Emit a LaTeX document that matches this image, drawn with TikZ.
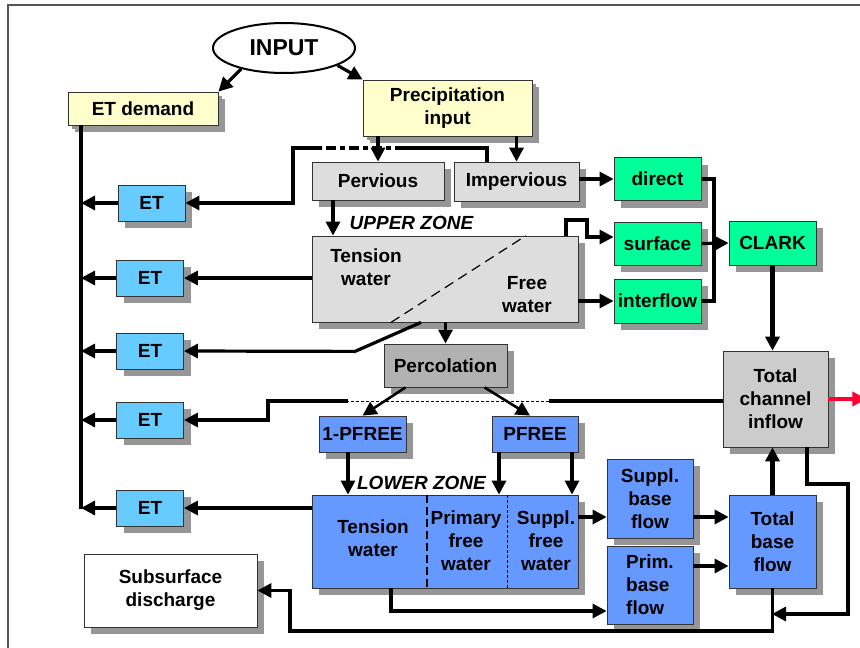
\documentclass[tikz,border=0pt]{standalone}
\usepackage{fontspec}
\setmainfont{Liberation Sans}
\usepackage{tikz}
\usetikzlibrary{shapes.geometric, shadows, arrows.meta}
\definecolor{paleyellow}{HTML}{FFFFCC}
\definecolor{lightgrey}{HTML}{DDDDDD}
\definecolor{midgrey}{HTML}{B2B2B2}
\definecolor{chgrey}{HTML}{CCCCCC}
\definecolor{flowgreen}{HTML}{00FF99}
\definecolor{etblue}{HTML}{66CCFF}
\definecolor{zoneblue}{HTML}{6699FF}
\definecolor{shadowgrey}{HTML}{969696}
\definecolor{framegrey}{HTML}{555555}
\definecolor{outred}{HTML}{FF0033}
\tikzset{box/.style={draw=black!80, line width=0.8pt, rectangle, inner sep=0pt,
		align=center, font=\fontsize{19}{23}\selectfont\bfseries,
		drop shadow={shadow xshift=7pt, shadow yshift=-7pt, fill=shadowgrey, opacity=1}},
	inbox/.style={box, fill=paleyellow,
		drop shadow={shadow xshift=4pt, shadow yshift=-4pt, fill=shadowgrey, opacity=1}},
	etbox/.style={box, fill=etblue, minimum width=67pt, minimum height=36pt},
	label/.style={inner sep=0pt, align=center, font=\fontsize{19}{23}\selectfont\bfseries},
	zonelabel/.style={inner sep=0pt, font=\fontsize{19}{23}\selectfont\bfseries\itshape},
	line/.style={draw, line width=3.2pt},
	arrow/.style={line, -{Triangle[length=14pt, width=14pt]}}}

\begin{document}
\begin{tikzpicture}
    [x=1pt, y=-1pt]
    \useasboundingbox (0,0) rectangle (860,648);
    \draw[framegrey, line width=1.5pt] (8,648) -- (8,5) -- (860,5);
    % inputs
    \node[ellipse, draw, line width=2pt, fill=white, minimum width=142pt, minimum height=50pt,
        inner sep=0pt, font=\fontsize{23}{27}\selectfont\bfseries] (in) at (284,48){INPUT};
    \node[inbox, minimum width=150pt, minimum height=33pt] (etd) at (143,108.5){ET demand};
    \node[inbox, minimum width=169pt, minimum height=56pt] (pi) at (447.5,108){Precipitation\\input};
    % surface split
    \node[box, fill=lightgrey, minimum width=132pt, minimum height=38pt] (pv) at (378,181){Pervious};
    \node[box, fill=lightgrey, minimum width=125pt, minimum height=39pt] (ip) at (516.5,181.5){Impervious};
    \node[box, fill=flowgreen, minimum width=87pt, minimum height=43pt] (dr) at (657.5,179){direct};
    \node[box, fill=flowgreen, minimum width=87pt, minimum height=43pt] (sf) at (657.5,243.5){surface};
    \node[box, fill=flowgreen, minimum width=87pt, minimum height=44pt] (if) at (657.5,301){interflow};
    \node[box, fill=flowgreen, minimum width=87pt, minimum height=44pt] (ck) at (772.5,243){CLARK};
    % upper zone
    \node[zonelabel] (uzl) at (411.5,223){UPPER ZONE};
    \node[box, fill=lightgrey, minimum width=266pt, minimum height=86pt] (uz) at (445,279){};
    \node[label] (utw) at (366,267){Tension\\water};
    \node[label] (ufw) at (527,295){Free\\water};
    \node[box, fill=midgrey, minimum width=123pt, minimum height=43pt] (pc) at (445.5,365.5){Percolation};
    \node[box, fill=chgrey, minimum width=105pt, minimum height=96pt] (tci) at (775.5,399){Total\\channel\\inflow};
    % lower zone
    \node[box, fill=zoneblue, minimum width=87pt, minimum height=36pt] (p1) at (362.5,434){1-PFREE};
    \node[box, fill=zoneblue, minimum width=86pt, minimum height=36pt] (pf) at (535,434){PFREE};
    \node[zonelabel] (lzl) at (421.5,483){LOWER ZONE};
    \node[box, fill=zoneblue, minimum width=266pt, minimum height=93pt] (lz) at (445,541.5){};
    \node[label] (ltw) at (373,538){Tension\\water};
    \node[label] (lpw) at (466,541){Primary\\free\\water};
    \node[label] (lsw) at (546,541){Suppl.\\free\\water};
    \node[box, fill=zoneblue, minimum width=86pt, minimum height=79pt] (sb) at (650,498.5){Suppl.\\base\\flow};
    \node[box, fill=zoneblue, minimum width=86pt, minimum height=78pt, align=left] (pb) at (650,585){Prim.\\base\\flow};
    \node[box, fill=zoneblue, minimum width=87pt, minimum height=93pt] (tb) at (772.5,541.5){Total\\base\\flow};
    \node[box, fill=white, minimum width=173pt, minimum height=73pt] (ss) at (170.5,590.5){Subsurface\\discharge};
    % ET boxes
    \node[etbox] (et1) at (151.5,203){ET};
    \node[etbox] (et2) at (150,278){ET};
    \node[etbox] (et3) at (150,351){ET};
    \node[etbox] (et4) at (150,420){ET};
    \node[etbox] (et5) at (150,508){ET};
    \coordinate (trunk) at (81,509);
    \coordinate (d1) at (405,148);
    \coordinate (d2) at (322,148);
    \coordinate (d3) at (293,148);
    \coordinate (sfbend) at (587,220);
    \coordinate (jn) at (714,243);
    \coordinate (e4a) at (549,401);
    \coordinate (e4b) at (348,401);
    \coordinate (e4c) at (268,401);
    \coordinate (lp1) at (848,484);
    \coordinate (lp2) at (772,614);
    \coordinate (sd1) at (290,631);
    % divisions
    \draw[dash pattern=on 10pt off 6pt, line width=1.2pt] ([xshift=-54pt]uz.south) -- ([xshift=81pt]uz.north);
    \draw[dash pattern=on 8pt off 4pt, line width=1.6pt] ([xshift=-18pt]lz.north) -- ([xshift=-18pt]lz.south);
    \draw[dash pattern=on 3pt off 2pt, line width=0.8pt] ([xshift=62pt]lz.north) -- ([xshift=62pt]lz.south);
    % ET links
    \draw[line] (etd.south -| trunk) -- (trunk);
    \foreach \e in {et1,et2,et3,et4,et5}
        \draw[arrow] (\e.west) -- (\e.west -| trunk);
    \draw[arrow] (in.206) -- (etd.north east);
    \draw[arrow] (in.-18) -- (pi.north west);
    \draw[arrow] (pi.south -| pv.north) -- (pv.north);
    \draw[arrow] (pi.south -| ip.north) -- (ip.north);
    \draw[line] ([xshift=-29.5pt]ip.north) |- (d1);
    \draw[line, dash pattern=on 10pt off 4pt on 5pt off 4pt] (d1) -- (d2);
    \draw[arrow] (d2) -- (d3) |- (et1.east);
    \draw[arrow] ([xshift=-45pt]pv.south) -- ([xshift=-45pt]pv.south |- uz.north);
    \draw[arrow] (uz.west |- et2) -- (et2.east);
    \draw[arrow] ([xshift=-24pt]uz.south) -- ++(-66,29) -- (et3.east);
    \draw[arrow] ([xshift=121pt]uz.north) |- (sfbend) |- ([yshift=6.5pt]sf.west);
    \draw[arrow] (uz.east |- if.west) -- (if.west);
    \draw[arrow] (ip.east |- dr.west) -- (dr.west);
    \draw[line] (dr.east) -| (jn) |- (if.east);
    \draw[arrow] (sf.east) -- (ck.west);
    \draw[arrow, line width=4.4pt] (ck.south) -- (ck.south |- tci.north);
    \draw[arrow, outred, line width=4pt] (tci.east) -- ++(38,0);
    \draw[arrow] (uz.south -| pc.north) -- (pc.north);
    \draw[arrow, line width=2.6pt] ([xshift=-40pt]pc.south) -- (p1.north);
    \draw[arrow, line width=2.6pt] ([xshift=39pt]pc.south) -- ([xshift=-5pt]pf.north);
    \draw[line] (tci.west |- e4a) -- (e4a);
    \draw[dash pattern=on 3pt off 2pt, line width=0.8pt] (e4a) -- (e4b);
    \draw[arrow] (e4b) -- (e4c) |- (et4.east);
    % lower zone links
    \draw[arrow] ([xshift=-14.5pt]p1.south) -- ([xshift=-14.5pt]p1.south |- lz.north);
    \draw[arrow] ([xshift=-36pt]pf.south) -- ([xshift=-36pt]pf.south |- lz.north);
    \draw[arrow] ([xshift=37pt]pf.south) -- ([xshift=37pt]pf.south |- lz.north);
    \draw[arrow] (lz.west |- et5) -- (et5.east);
    \draw[arrow] ([yshift=-18.5pt]sb.west -| lz.east) -- ([yshift=-18.5pt]sb.west);
    \draw[arrow] ([xshift=-54pt]lz.south) |- ([yshift=-26pt]pb.west);
    \draw[arrow] ([yshift=-18.5pt]sb.east) -- ([yshift=-18.5pt]sb.east -| tb.west);
    \draw[arrow] ([yshift=19pt]pb.east) -- ([yshift=19pt]pb.east -| tb.west);
    \draw[arrow, line width=4.4pt] (tb.north) -- (tb.north |- tci.south);
    \draw[arrow] ([xshift=31.5pt]tci.south) |- (lp1) |- (lp2);
    \draw[arrow] (tb.south) |- (sd1) |- (ss.east);
    \end{tikzpicture}
\end{document}
